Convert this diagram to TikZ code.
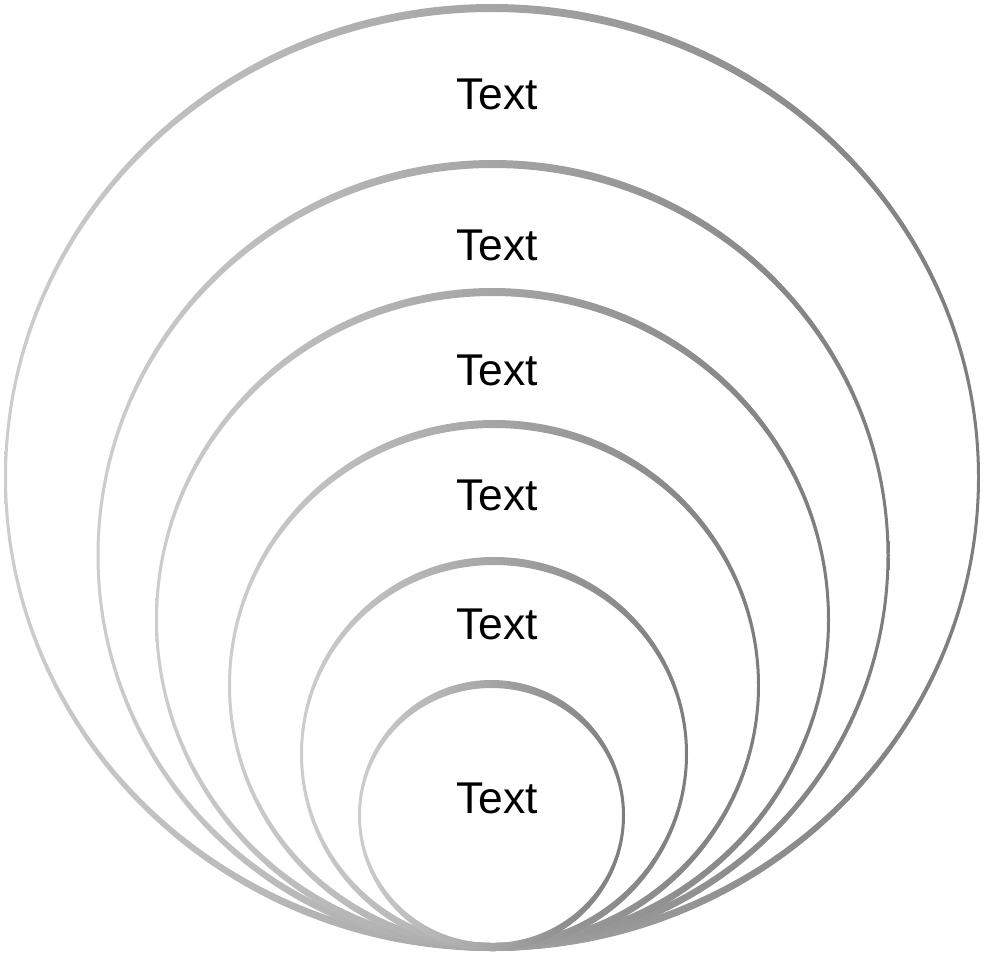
\documentclass[tikz,border=0pt]{standalone}
\usepackage{fontspec}
\setmainfont{Liberation Sans}
\definecolor{ringLight}{RGB}{205,205,205}
\definecolor{ringMid}{RGB}{170,170,170}
\definecolor{ringDark}{RGB}{125,125,125}
\begin{document}
\begin{tikzpicture}[x=1pt,y=-1pt,
        ring/.style={even odd rule,left color=ringLight,middle color=ringMid,
                     right color=ringDark},
        lbl/.style={font=\fontsize{44.5}{50}\selectfont,inner sep=0pt}]
        \useasboundingbox (0,0) rectangle (985,954);
        \foreach \n/\cx/\cy/\rx/\ry/\ty in {1/492/477.5/488/473.5/94,
                                          2/493/555.5/396.5/395.5/245,
                                          3/492.5/619.5/337.5/331.5/370,
                                          4/494/685.5/266/265.5/495,
                                          5/494/754/194/197/624,
                                          6/491.5/815.5/133.5/135.5/798}{
          \shade[ring] (\cx,\cy) ellipse [x radius=\rx pt, y radius=\ry pt]
                       (\cx,\cy) ellipse [x radius={\rx pt-3pt}, y radius={\ry pt-8pt}];
          \node[lbl] (ring\n) at (497,\ty) {Text};
        }
      \end{tikzpicture}
\end{document}
